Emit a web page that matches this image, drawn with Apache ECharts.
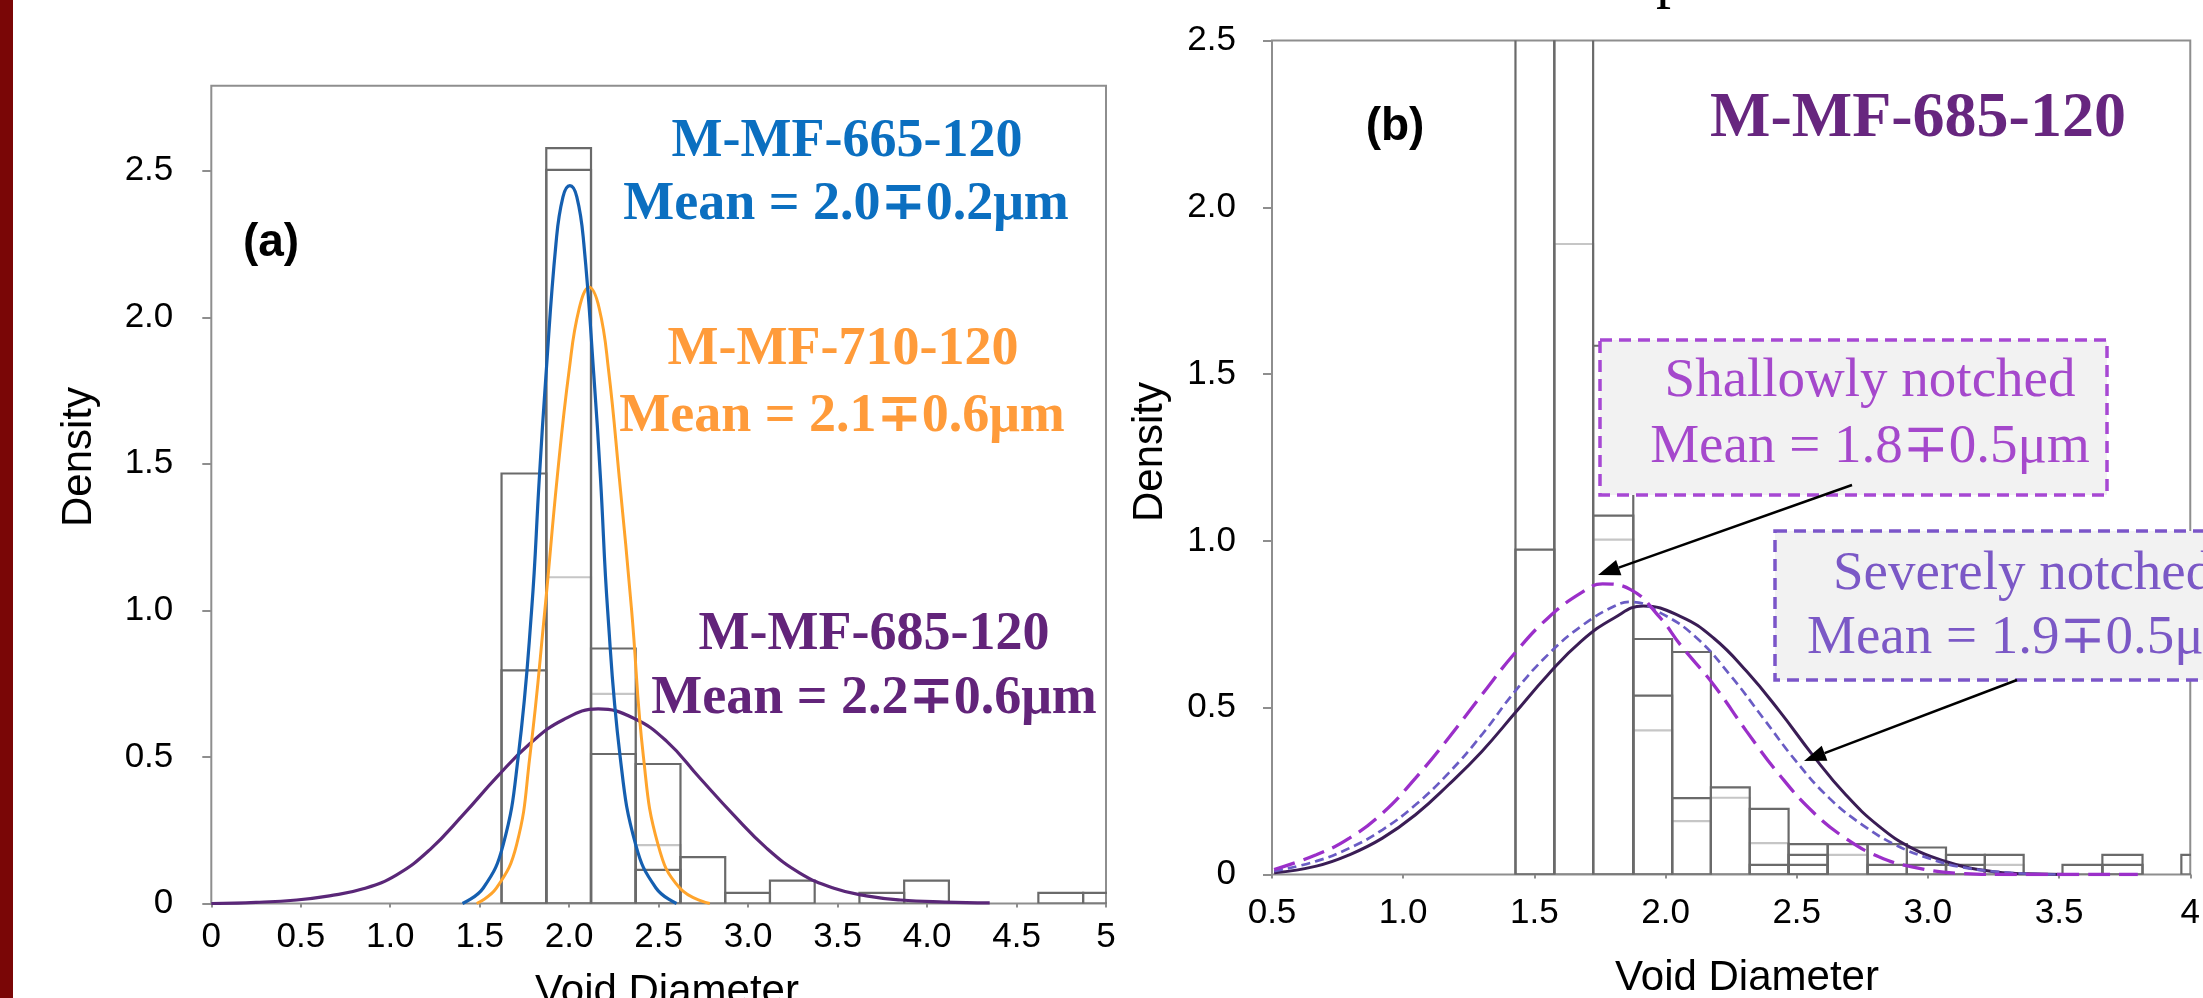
<!DOCTYPE html>
<html><head><meta charset="utf-8">
<script src="https://cdn.jsdelivr.net/npm/echarts@6/dist/echarts.min.js"></script>
<style>html,body{margin:0;padding:0;background:#fff;}#c{width:2203px;height:998px;}</style>
</head><body><div id="c"></div>
<script>
// ---------- Panel (a) data ----------
const aEdges = [1.622,1.872,2.122,2.372,2.622,2.872,3.122,3.372,3.622,3.872,4.122,4.372,4.622,4.872,5.122];
const aHistOuter = [1.467,2.577,0.870,0.476,0.158,0.036,0.078,0,0.036,0.078,0,0,0.036,0.036];
const aHistInner = [0.795,2.503,0.510,0.115,0,0,0,0,0,0,0,0,0,0];
const aHistLight = [0,1.113,0.715,0.199,0,0,0,0,0,0,0,0,0,0];
const aCurve665 = [[1.404,0],[1.520,0.053],[1.631,0.2],[1.715,0.5],[1.790,1.0],[1.833,1.45],[1.870,1.80],[1.926,2.25],[1.965,2.41],[2.004,2.449],[2.043,2.41],[2.082,2.25],[2.138,1.80],[2.175,1.45],[2.215,1.0],[2.285,0.5],[2.372,0.2],[2.485,0.053],[2.600,0]];
const aCurve710 = [[1.483,0],[1.594,0.053],[1.706,0.2],[1.780,0.5],[1.864,1.0],[1.933,1.453],[2.000,1.82],[2.056,2.03],[2.112,2.102],[2.168,2.03],[2.220,1.82],[2.280,1.453],[2.349,1.0],[2.415,0.5],[2.497,0.2],[2.618,0.053],[2.786,0]];
const aCurve685 = [[0,0],[0.25,0.004],[0.477,0.012],[0.660,0.026],[0.849,0.050],[1.036,0.098],[1.222,0.184],[1.408,0.303],[1.594,0.430],[1.780,0.545],[1.967,0.627],[2.162,0.664],[2.358,0.633],[2.544,0.554],[2.730,0.428],[2.917,0.303],[3.103,0.189],[3.289,0.104],[3.475,0.053],[3.661,0.026],[3.850,0.012],[4.100,0.005],[4.350,0.002]];
const aYTicks = [0,0.5,1.0,1.5,2.0,2.5];

// ---------- Panel (b) data ----------
const bEdges = [1.428,1.576,1.724,1.877,2.025,2.173,2.321,2.469,2.618,2.770,2.920,3.069,3.217,3.365,3.513,3.665,3.818,3.966,4.114];
const bHistOuter = [2.6,2.6,1.585,0.706,0.667,0.261,0.197,0.091,0.091,0.091,0.081,0.059,0.059,0,0.029,0.059,0,0.059];
const bHistInner = [0.974,0,1.076,0.536,0.229,0,0.029,0.059,0,0.029,0.029,0.029,0,0,0,0.029,0,0];
const bHistInner2 = [0,0,0,0,0,0,0,0.029,0,0,0,0,0,0,0,0,0,0];
const bHistLight = [0,1.89,1.004,0.432,0.16,0.23,0.094,0,0.059,0,0,0,0.029,0,0,0,0,0];
const bSolid = [[0.508,0.005],[0.669,0.025],[0.795,0.059],[0.921,0.109],[1.047,0.179],[1.173,0.269],[1.300,0.369],[1.426,0.484],[1.552,0.599],[1.678,0.699],[1.804,0.769],[1.915,0.805],[2.056,0.774],[2.183,0.709],[2.309,0.609],[2.435,0.489],[2.561,0.358],[2.687,0.239],[2.813,0.145],[2.939,0.079],[3.065,0.040],[3.191,0.015],[3.380,0.002],[3.568,0]];
const bShort = [[0.508,0.010],[0.669,0.040],[0.795,0.079],[0.921,0.134],[1.047,0.209],[1.173,0.304],[1.300,0.419],[1.426,0.549],[1.552,0.659],[1.678,0.744],[1.804,0.804],[1.867,0.817],[1.993,0.779],[2.119,0.709],[2.245,0.599],[2.372,0.469],[2.498,0.339],[2.624,0.229],[2.750,0.149],[2.876,0.089],[3.002,0.049],[3.128,0.022],[3.317,0.005],[3.500,0]];
const bLong = [[0.508,0.015],[0.669,0.059],[0.795,0.109],[0.921,0.184],[1.047,0.289],[1.173,0.409],[1.300,0.539],[1.426,0.664],[1.552,0.769],[1.678,0.844],[1.760,0.871],[1.867,0.854],[1.980,0.769],[2.056,0.689],[2.183,0.569],[2.309,0.429],[2.435,0.298],[2.561,0.188],[2.687,0.108],[2.813,0.053],[2.939,0.023],[3.128,0.003],[3.317,0],[3.800,0]];
const bYTicks = [0,0.5,1.0,1.5,2.0,2.5];

// ---------- styles ----------
const SANS = "'Liberation Sans', Arial, Helvetica, sans-serif";
const SERIF = "'Liberation Serif', 'Times New Roman', 'DejaVu Serif', serif";
const DARK = '#6a6a6a', LIGHT = '#c6c6c6', FRAME = '#8e8e8e';

function histSeries(axis, edges, heights, color, z) {
  const data = [];
  heights.forEach((h, i) => { if (h > 0) data.push([edges[i], edges[i + 1], h]); });
  return {
    type: 'custom', xAxisIndex: axis, yAxisIndex: axis, clip: true, silent: true, z: z,
    encode: { x: [0, 1], y: 2 },
    renderItem: function (params, api) {
      const p0 = api.coord([api.value(0), 0]);
      const p1 = api.coord([api.value(1), api.value(2)]);
      return { type: 'rect', shape: { x: p0[0], y: p1[1], width: p1[0] - p0[0], height: p0[1] - p1[1] },
        style: { fill: 'none', stroke: color, lineWidth: 2.2 } };
    },
    data: data
  };
}
function curve(axis, data, color, width, type) {
  return { type: 'line', xAxisIndex: axis, yAxisIndex: axis, data: data, smooth: 0.45, symbol: 'none',
    clip: true, silent: true, z: 5, lineStyle: { color: color, width: width, type: type || 'solid' } };
}
function xAxisCfg(grid, min, max, margin, fmt) {
  return { gridIndex: grid, type: 'value', min: min, max: max, interval: 0.5,
    axisLine: { show: false }, splitLine: { show: false },
    axisTick: { show: true, length: 4, lineStyle: { color: FRAME, width: 2 } },
    axisLabel: { margin: margin, fontSize: 35, color: '#000', fontFamily: SANS, formatter: fmt } };
}
function yAxisCfg(grid, max, ticks, margin, pad) {
  return { gridIndex: grid, type: 'value', min: 0, max: max, interval: 0.5,
    axisLine: { show: false }, splitLine: { show: false },
    axisTick: { show: true, length: 9, customValues: ticks, lineStyle: { color: FRAME, width: 2 } },
    axisLabel: { margin: margin, fontSize: 35, color: '#000', fontFamily: SANS, customValues: ticks,
      padding: pad, formatter: v => v === 0 ? '0' : v.toFixed(1) } };
}

function txt(x, y, text, font, fill, align, rot) {
  return { type: 'text', x: x, y: y, rotation: rot || 0, z: 20,
    style: { text: text, font: font, fill: fill, align: align || 'center', verticalAlign: 'middle' } };
}
function arrow(x1, y1, x2, y2) {
  const dx = x2 - x1, dy = y2 - y1, L = Math.hypot(dx, dy), ux = dx / L, uy = dy / L;
  const hl = 22, hw = 8;
  const bx = x2 - ux * hl, by = y2 - uy * hl;
  return [
    { type: 'line', z: 21, shape: { x1: x1, y1: y1, x2: bx, y2: by }, style: { stroke: '#000', lineWidth: 2.5 } },
    { type: 'polygon', z: 21, shape: { points: [[x2, y2], [bx - uy * hw, by + ux * hw], [bx + uy * hw, by - ux * hw]] }, style: { fill: '#000' } }
  ];
}

const chart = echarts.init(document.getElementById('c'), null, { renderer: 'canvas' });
const BLUE = '#0b6fc0', ORANGE = '#ff9b3a', PURP = '#62247a';
const graphic = [
  { type: 'rect', z: 30, shape: { x: 0, y: 0, width: 13, height: 998 }, style: { fill: '#7a0606' } },
  txt(271, 243, '(a)', 'bold 46px ' + SANS, '#000'),
  txt(1395, 127, '(b)', 'bold 46px ' + SANS, '#000'),
  txt(847, 142, 'M-MF-665-120', 'bold 54px ' + SERIF, BLUE),
  txt(846, 205, 'Mean = 2.0\u22130.2\u03bcm', 'bold 54px ' + SERIF, BLUE),
  txt(843, 350, 'M-MF-710-120', 'bold 54px ' + SERIF, ORANGE),
  txt(842, 417, 'Mean = 2.1\u22130.6\u03bcm', 'bold 54px ' + SERIF, ORANGE),
  txt(874, 635, 'M-MF-685-120', 'bold 54px ' + SERIF, PURP),
  txt(874, 699, 'Mean = 2.2\u22130.6\u03bcm', 'bold 54px ' + SERIF, PURP),
  txt(1918, 119, 'M-MF-685-120', 'bold 64px ' + SERIF, '#67267f'),
  txt(79, 457, 'Density', '42px ' + SANS, '#000', 'center', Math.PI / 2),
  txt(1150, 452, 'Density', '42px ' + SANS, '#000', 'center', Math.PI / 2),
  txt(667, 992, 'Void Diameter', '42px ' + SANS, '#000'),
  txt(1747, 978, 'Void Diameter', '42px ' + SANS, '#000'),
  { type: 'text', x: 1656, y: 10, z: 20, style: { text: 'p', font: '60px ' + SERIF, fill: '#000', align: 'left', verticalAlign: 'bottom' } },
  { type: 'rect', z: 15, shape: { x: 1600, y: 340, width: 507, height: 155 },
    style: { fill: '#f2f2f2', stroke: '#a748d3', lineWidth: 3.5, lineDash: [12, 7] } },
  txt(1870, 382, 'Shallowly notched', '55px ' + SERIF, '#a548cc'),
  txt(1870, 448, 'Mean = 1.8\u22130.5\u03bcm', '55px ' + SERIF, '#a548cc'),
  { type: 'rect', z: 15, shape: { x: 1775, y: 531, width: 460, height: 149 },
    style: { fill: '#f2f2f2', stroke: '#7b55c9', lineWidth: 3.5, lineDash: [12, 7] } },
  txt(1833, 575, 'Severely notched', '55px ' + SERIF, '#7b58c6', 'left'),
  txt(1807, 639, 'Mean = 1.9\u22130.5\u03bcm', '55px ' + SERIF, '#7b58c6', 'left')
].concat(arrow(1852, 485, 1598, 575)).concat(arrow(2017, 680, 1804, 761));

chart.setOption({
  backgroundColor: '#fff',
  animation: false,
  grid: [
    { left: 211.3, top: 85.7, width: 894.7, height: 817.8, show: true, borderColor: FRAME, borderWidth: 2, backgroundColor: 'transparent' },
    { left: 1272, top: 40.5, width: 924.5, height: 834, show: true, borderColor: FRAME, borderWidth: 2, backgroundColor: 'transparent' }
  ],
  xAxis: [
    xAxisCfg(0, 0, 5, 16, v => (v === 0 || v === 5) ? String(v) : v.toFixed(1)),
    xAxisCfg(1, 0.5, 4, 21, v => v === 4 ? '4' : v.toFixed(1))
  ],
  yAxis: [
    yAxisCfg(0, 2.79, aYTicks, 38, [0, 0, 24, 0]),
    yAxisCfg(1, 2.5, bYTicks, 36, 0)
  ],
  series: [
    histSeries(0, aEdges, aHistLight, LIGHT, 1),
    histSeries(0, aEdges, aHistInner, DARK, 2),
    histSeries(0, aEdges, aHistOuter, DARK, 2),
    curve(0, aCurve685, '#5a2778', 3.2),
    curve(0, aCurve710, '#ffa42c', 3),
    curve(0, aCurve665, '#155fb0', 3.2),
    histSeries(1, bEdges, bHistLight, LIGHT, 1),
    histSeries(1, bEdges, bHistInner2, DARK, 2),
    histSeries(1, bEdges, bHistInner, DARK, 2),
    histSeries(1, bEdges, bHistOuter, DARK, 2),
    curve(1, bSolid, '#3a1d55', 3),
    curve(1, bShort, '#6a5cc4', 2.7, [9, 5]),
    curve(1, bLong, '#9b2fc9', 3.3, [22, 9])
  ],
  graphic: graphic
});
</script></body></html>
